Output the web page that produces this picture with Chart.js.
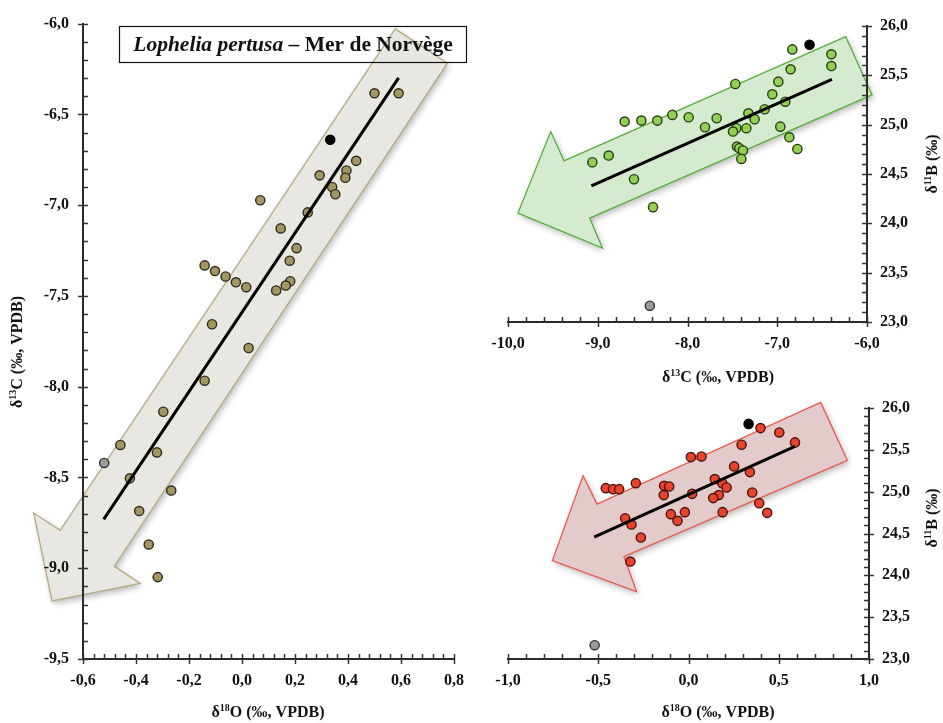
<!DOCTYPE html>
<html><head><meta charset="utf-8">
<script src="https://cdn.jsdelivr.net/npm/chart.js@4"></script>
<style>html,body{margin:0;padding:0;background:#fff;}canvas{position:absolute;left:0;top:0;}</style>
</head><body>
<canvas id="cLeft" width="943" height="723"></canvas>
<canvas id="cTR" width="943" height="723"></canvas>
<canvas id="cBR" width="943" height="723"></canvas>
<script>
// ---------- DATA ----------
// Left panel: δ18O vs δ13C
const leftO18 = [0.500,0.591,0.431,0.394,0.390,0.293,0.340,0.352,0.069,0.248,0.146,0.206,0.180,-0.141,-0.102,-0.062,-0.023,0.016,0.182,0.165,0.129,-0.113,0.025,-0.141,-0.297,-0.459,-0.321,-0.423,-0.267,-0.388,-0.352,-0.318];
const leftC13 = [-6.384,-6.384,-6.756,-6.809,-6.849,-6.836,-6.900,-6.940,-6.973,-7.040,-7.128,-7.237,-7.306,-7.332,-7.363,-7.393,-7.425,-7.452,-7.419,-7.443,-7.470,-7.656,-7.787,-7.967,-8.138,-8.321,-8.362,-8.505,-8.572,-8.685,-8.869,-9.049];
// Top-right panel: δ13C vs δ11B
const trC13 = [-6.832,-6.397,-6.397,-6.851,-7.467,-6.988,-7.055,-6.910,-7.140,-7.322,-7.252,-8.700,-8.514,-8.336,-8.169,-7.987,-7.675,-7.805,-7.456,-7.344,-7.493,-6.966,-6.865,-6.776,-7.449,-7.423,-7.382,-7.400,-9.060,-8.878,-8.596,-8.384];
const trB11 = [25.763,25.713,25.594,25.561,25.412,25.436,25.308,25.233,25.156,25.115,25.055,25.031,25.041,25.041,25.099,25.075,25.065,24.974,24.964,24.964,24.930,24.980,24.872,24.754,24.778,24.761,24.738,24.653,24.619,24.687,24.447,24.164];
// Bottom-right panel: δ18O vs δ11B
const brO18 = [0.399,0.503,0.590,0.294,0.013,0.072,0.253,0.340,0.146,0.187,0.211,-0.292,-0.458,-0.418,-0.384,-0.135,-0.107,-0.137,0.020,0.168,0.137,0.353,0.392,0.436,0.189,-0.098,-0.020,-0.061,-0.351,-0.316,-0.264,-0.322];
const brB11 = [25.760,25.708,25.589,25.561,25.413,25.421,25.302,25.234,25.150,25.102,25.050,25.102,25.042,25.030,25.030,25.070,25.062,24.959,24.974,24.959,24.923,24.990,24.863,24.747,24.755,24.731,24.755,24.651,24.683,24.607,24.452,24.165];
// Special samples (black and grey): [δ18O, δ13C, δ11B]
const blackSample = [0.333, -6.64, 25.81];
const greySample = [-0.52, -8.42, 23.165];
// Regression lines (end points)
const leftRegX = [-0.522, 0.591], leftRegY = [-8.731, -6.299];
const trRegX = [-9.071, -6.390], trRegY = [24.380, 25.460];
const brRegX = [-0.523, 0.590], brRegY = [24.456, 25.541];
// Arrow outlines (data coordinates)
const leftArrowX = [0.578, 0.775, -0.482, -0.384, -0.717, -0.786, -0.686];
const leftArrowY = [-6.029, -6.218, -8.989, -9.084, -9.180, -8.696, -8.791];
const trArrowX = [-6.237, -5.944, -9.090, -8.948, -9.889, -9.524, -9.376];
const trArrowY = [25.892, 25.301, 24.053, 23.749, 24.104, 24.930, 24.633];
const brArrowX = [0.732, 0.880, -0.358, -0.288, -0.754, -0.584, -0.507];
const brArrowY = [26.067, 25.373, 24.224, 23.805, 24.176, 25.190, 24.851];
// Texts
const panelTitle = [{t:'Lophelia pertusa', it:true}, {t:' – Mer de Norvège'}];
const titleO18 = [{t:'δ'},{t:'18',sup:true},{t:'O (‰, VPDB)'}];
const titleC13 = [{t:'δ'},{t:'13',sup:true},{t:'C (‰, VPDB)'}];
const titleB11 = [{t:'δ'},{t:'11',sup:true},{t:'B (‰)'}];

// ---------- HELPERS ----------
const FONT = '"Liberation Serif", "Times New Roman", serif';
const pts = (xs, ys) => xs.map((x, i) => ({x, y: ys[i]}));
const fmt = v => Math.abs(v) < 1e-9 ? '0,0' : v.toFixed(1).replace('.', ',');

function richText(ctx, parts, cx, cy, rot, size) {
  ctx.save();
  ctx.translate(cx, cy); ctx.rotate(rot);
  const f = p => `${p.it ? 'italic ' : ''}bold ${p.sup ? Math.round(size * 0.62) : size}px ${FONT}`;
  let w = 0;
  parts.forEach(p => { ctx.font = f(p); w += ctx.measureText(p.t).width; });
  let x = -w / 2;
  ctx.textBaseline = 'middle'; ctx.textAlign = 'left'; ctx.fillStyle = '#111';
  parts.forEach(p => { ctx.font = f(p); ctx.fillText(p.t, x, p.sup ? -size * 0.3 : 0); x += ctx.measureText(p.t).width; });
  ctx.restore();
}

function panelPlugin(cfg) {
  return {
    id: 'panel_' + cfg.id,
    beforeDraw(chart) {
      const {ctx, scales: {x, y}} = chart;
      ctx.save();
      ctx.beginPath();
      cfg.arrowX.forEach((v, i) => {
        const px = x.getPixelForValue(v), py = y.getPixelForValue(cfg.arrowY[i]);
        i ? ctx.lineTo(px, py) : ctx.moveTo(px, py);
      });
      ctx.closePath();
      ctx.shadowColor = 'rgba(0,0,0,0.28)'; ctx.shadowBlur = 6; ctx.shadowOffsetX = 2; ctx.shadowOffsetY = 3;
      ctx.fillStyle = cfg.arrowFill; ctx.fill();
      ctx.shadowColor = 'transparent';
      ctx.lineWidth = 1.3; ctx.strokeStyle = cfg.arrowStroke; ctx.stroke();
      ctx.restore();
    },
    afterDraw(chart) {
      const {ctx, chartArea: a, scales: {x, y}} = chart;
      ctx.save();
      ctx.strokeStyle = '#333'; ctx.lineWidth = 1.5;
      // x ticks
      let n = Math.round((x.max - x.min) / cfg.xMinor), k = Math.round(cfg.xMajor / cfg.xMinor);
      for (let i = 0; i <= n; i++) {
        const px = Math.round(x.getPixelForValue(x.min + i * cfg.xMinor)) + 0.5;
        ctx.beginPath();
        ctx.moveTo(px, a.bottom - 5); ctx.lineTo(px, i % k === 0 ? a.bottom + 5 : a.bottom);
        ctx.stroke();
      }
      n = Math.round((y.max - y.min) / cfg.yMinor); k = Math.round(cfg.yMajor / cfg.yMinor);
      const x0 = cfg.yPos === 'left' ? a.left : a.right;
      const dir = cfg.yPos === 'left' ? 1 : -1;
      for (let i = 0; i <= n; i++) {
        const py = Math.round(y.getPixelForValue(y.min + i * cfg.yMinor)) + 0.5;
        ctx.beginPath();
        ctx.moveTo(x0 + dir * 5, py); ctx.lineTo(i % k === 0 ? x0 - dir * 5 : x0, py);
        ctx.stroke();
      }
      ctx.restore();
      richText(ctx, cfg.xTitle, cfg.xTitlePos[0], cfg.xTitlePos[1], 0, 16);
      richText(ctx, cfg.yTitle, cfg.yTitlePos[0], cfg.yTitlePos[1], -Math.PI / 2, 16);
      if (cfg.box) {
        ctx.save();
        ctx.strokeStyle = '#111'; ctx.lineWidth = 1.2;
        ctx.strokeRect(cfg.box[0], cfg.box[1], cfg.box[2], cfg.box[3]);
        ctx.restore();
        richText(ctx, panelTitle, cfg.box[0] + cfg.box[2] / 2, cfg.box[1] + cfg.box[3] / 2 + 1, 0, 21.5);
      }
    }
  };
}

function axis(pos, min, max, step, pad, fit) {
  return {
    type: 'linear', position: pos, min, max,
    ticks: {stepSize: step, padding: pad, color: '#111', callback: fmt, autoSkip: false, maxRotation: 0,
            font: {family: FONT, size: 16, weight: 'bold'}},
    grid: {display: true, drawOnChartArea: false, drawTicks: false},
    border: {display: true, color: '#2a2a2a', width: 2},
    afterFit: fit
  };
}

function makeChart(id, cfg) {
  new Chart(document.getElementById(id), {
    type: 'scatter',
    data: {datasets: [
      {data: pts(cfg.regX, cfg.regY), showLine: true, borderColor: '#000', borderWidth: 3, pointRadius: 0},
      {data: pts(cfg.xs, cfg.ys), backgroundColor: cfg.pointFill, borderColor: cfg.pointStroke, borderWidth: 1.4, pointRadius: 4.6},
      {data: [cfg.black], backgroundColor: '#000', borderColor: '#000', borderWidth: 1.4, pointRadius: 4.6},
      {data: [cfg.grey], backgroundColor: '#9a9a9a', borderColor: '#333', borderWidth: 1.4, pointRadius: 4.6}
    ]},
    options: {
      responsive: false, animation: false, devicePixelRatio: 1,
      layout: {padding: cfg.padding},
      plugins: {legend: {display: false}, tooltip: {enabled: false}},
      scales: {
        x: axis('bottom', cfg.xMin, cfg.xMax, cfg.xMajor, cfg.xPad, s => { s.height = cfg.xAxisH; }),
        y: axis(cfg.yPos, cfg.yMin, cfg.yMax, cfg.yMajor, cfg.yPad, s => { s.width = cfg.yAxisW; })
      }
    },
    plugins: [panelPlugin(cfg)]
  });
}

makeChart('cLeft', {
  id: 'left', xs: leftO18, ys: leftC13, regX: leftRegX, regY: leftRegY,
  black: {x: blackSample[0], y: blackSample[1]}, grey: {x: greySample[0], y: greySample[1]},
  pointFill: '#a29662', pointStroke: '#2e2b1c',
  arrowX: leftArrowX, arrowY: leftArrowY, arrowFill: '#e8e7e2', arrowStroke: '#b3ab82',
  xMin: -0.6, xMax: 0.8, xMajor: 0.2, xMinor: 0.04, yMin: -9.5, yMax: -6.0, yMajor: 0.5, yMinor: 0.1,
  yPos: 'left', xPad: 12, yPad: 14, xAxisH: 64, yAxisW: 83,
  padding: {left: 0, top: 22, right: 489, bottom: 0},
  xTitle: titleO18, xTitlePos: [268, 713], yTitle: titleC13, yTitlePos: [18, 352],
  box: [119.5, 26.5, 347, 36]
});
makeChart('cTR', {
  id: 'tr', xs: trC13, ys: trB11, regX: trRegX, regY: trRegY,
  black: {x: blackSample[1], y: blackSample[2]}, grey: {x: greySample[1], y: greySample[2]},
  pointFill: '#93cf52', pointStroke: '#263d12',
  arrowX: trArrowX, arrowY: trArrowY, arrowFill: '#d4ebcf', arrowStroke: '#58ad3e',
  xMin: -10, xMax: -6, xMajor: 1, xMinor: 0.2, yMin: 23, yMax: 26, yMajor: 0.5, yMinor: 0.1,
  yPos: 'right', xPad: 12, yPad: 13, xAxisH: 60, yAxisW: 60,
  padding: {left: 508, top: 26, right: 16, bottom: 341},
  xTitle: titleC13, xTitlePos: [718, 378], yTitle: titleB11, yTitlePos: [933, 164]
});
makeChart('cBR', {
  id: 'br', xs: brO18, ys: brB11, regX: brRegX, regY: brRegY,
  black: {x: blackSample[0], y: blackSample[2]}, grey: {x: greySample[0], y: greySample[2]},
  pointFill: '#e8432c', pointStroke: '#4a140c',
  arrowX: brArrowX, arrowY: brArrowY, arrowFill: '#e4cbcb', arrowStroke: '#ea5a4e',
  xMin: -1, xMax: 1, xMajor: 0.5, xMinor: 0.1, yMin: 23, yMax: 26, yMajor: 0.5, yMinor: 0.1,
  yPos: 'right', xPad: 12, yPad: 13, xAxisH: 60, yAxisW: 60,
  padding: {left: 508, top: 408, right: 14, bottom: 4},
  xTitle: titleO18, xTitlePos: [718, 713], yTitle: titleB11, yTitlePos: [933, 518]
});
</script>
</body></html>
